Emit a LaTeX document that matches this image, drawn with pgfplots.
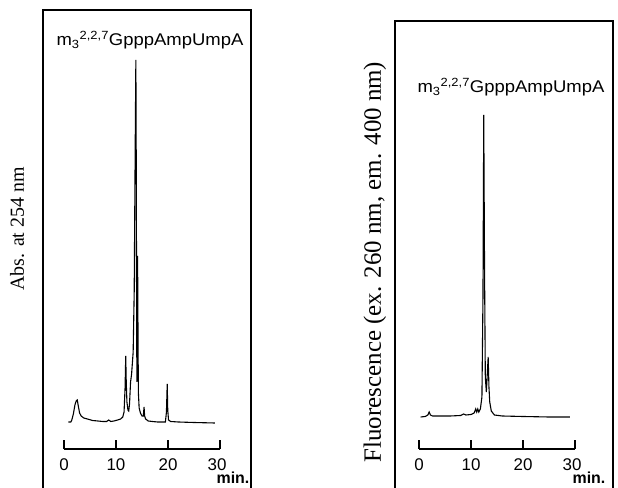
\documentclass[border=0pt]{standalone}
\usepackage{fontspec}
\setmainfont{Liberation Serif}
\setsansfont{Liberation Sans}
\usepackage{pgfplots}
\pgfplotsset{compat=1.18}

\pgfplotsset{
  trace/.style={
    scale only axis, width=156bp, height=407bp,
    xmin=0, xmax=30, enlarge x limits=false,
    axis x line=bottom, axis y line=none,
    x axis line style={-, line width=1.6bp},
    xtick={0,10,20,30}, tick align=inside,
    xticklabels={0,10,20,\raisebox{3.5bp}{30\hspace*{6bp}}},
    major tick length=9bp,
    every tick/.style={black, line width=1.6bp},
    /pgf/number format/assume math mode=true,
    xticklabel style={font=\sffamily\fontsize{17}{18}\selectfont, yshift=-6bp},
    clip=false,
  },
}

\begin{document}
\begin{tikzpicture}[x=1bp,y=1bp]
\useasboundingbox (0,0) rectangle (618,488);

% frames
\draw[line width=1.8bp] (43,0) -- (43,478) -- (251,478) -- (251,0);
\draw[line width=1.8bp] (395,0) -- (395,467) -- (613,467) -- (613,0);

% left: absorbance
\begin{axis}[trace, at={(64bp,39bp)}, anchor=south west, ymin=-27, ymax=380]
\addplot[black, line width=1.1bp] coordinates {
(0.83,0) (1.3,0) (1.5,2) (1.8,8) (2.1,17) (2.35,21) (2.55,22) (2.75,16)
(3.0,9) (3.3,6) (3.8,4) (4.5,3) (5.5,1.5) (6.5,1) (7.5,0.5) (8.2,0.5)
(8.6,2) (9.0,0.5) (9.6,1) (10.3,2) (10.9,3) (11.3,5) (11.55,10) (11.75,35)
(11.87,66) (11.97,40) (12.1,20) (12.3,12) (12.45,11) (12.6,18) (12.8,40)
(13.0,48) (13.3,70) (13.5,130) (13.7,280) (13.82,362) (13.9,250) (13.97,100)
(14.02,40) (14.08,80) (14.15,166) (14.22,100) (14.3,30) (14.45,14) (14.7,9)
(15.0,6) (15.25,6) (15.4,15) (15.5,6) (15.7,3) (16.2,1) (17,0.5) (18,0)
(19.5,0) (19.7,10) (19.85,38) (19.95,12) (20.1,2) (20.5,0.5) (22,0)
(25,-0.5) (29,-1)
};
\end{axis}

% right: fluorescence
\begin{axis}[trace, at={(419bp,39bp)}, anchor=south west, ymin=-32, ymax=375]
\addplot[black, line width=1.1bp] coordinates {
(0.3,0) (1.2,0.5) (1.7,2) (1.95,5) (2.2,2) (2.6,1) (4,1) (6,1) (8,1.5)
(8.6,3) (9.0,2) (10,2.5) (10.6,4) (10.9,8) (11.1,5) (11.3,8) (11.5,5)
(11.8,8) (12.1,20) (12.3,120) (12.45,302) (12.6,150) (12.75,40) (12.95,25)
(13.15,45) (13.3,60) (13.45,30) (13.6,15) (13.9,6) (14.5,2) (16,1)
(20,0.5) (25,0) (29,0)
};
\end{axis}

% titles
\node[anchor=base, font=\sffamily\fontsize{17}{18}\selectfont, xscale=1.09]
  at (150,442) {m\textsubscript{3}\textsuperscript{2,2,7}GpppAmpUmpA};
\node[anchor=base, font=\sffamily\fontsize{17}{18}\selectfont, xscale=1.09]
  at (511,395) {m\textsubscript{3}\textsuperscript{2,2,7}GpppAmpUmpA};

% min.
\node[anchor=base, inner sep=0pt, font=\sffamily\bfseries\fontsize{16}{18}\selectfont] at (233,4) {min.};
\node[anchor=base, inner sep=0pt, font=\sffamily\bfseries\fontsize{16}{18}\selectfont] at (589,4) {min.};

% y labels
\node[rotate=90, font=\fontsize{20}{22}\selectfont] at (17,259) {Abs. at 254 nm};
\node[rotate=90, font=\fontsize{25}{27}\selectfont] at (375,226) {Fluorescence (ex. 260 nm, em. 400 nm)};
\end{tikzpicture}
\end{document}
